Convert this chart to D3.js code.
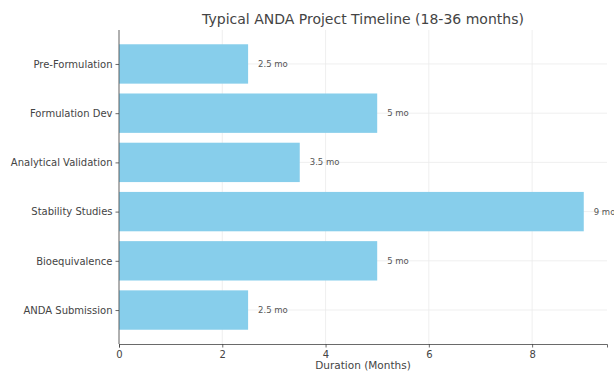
<!DOCTYPE html>
<html>
<head>
<meta charset="utf-8">
<script src="https://cdn.jsdelivr.net/npm/d3@7"></script>
<style>
  body { margin: 0; background: #fff; }
  svg { display: block; font-family: "DejaVu Sans", sans-serif; }
</style>
</head>
<body>
<div id="chart"></div>
<script>
/* ------------------------- Data ------------------------- */
var phases = ["Pre-Formulation", "Formulation Dev", "Analytical Validation",
              "Stability Studies", "Bioequivalence", "ANDA Submission"];
var months = [2.5, 5, 3.5, 9, 5, 2.5];
var valueLabels = ["2.5 mo", "5 mo", "3.5 mo", "9 mo", "5 mo", "2.5 mo"];
var xTicks = [0, 2, 4, 6, 8];

/* ------------------------- Layout ------------------------- */
var width = 614, height = 373,
    margin = {top: 30, right: 7, bottom: 29, left: 119},
    innerW = width - margin.left - margin.right,
    innerH = height - margin.top - margin.bottom;

var svg = d3.select("#chart").append("svg")
    .attr("width", width)
    .attr("height", height);

var chart = svg.append("g")
    .attr("transform", "translate(" + margin.left + "," + margin.top + ")");

/* x scale with a small margin past the longest bar */
var x = d3.scaleLinear()
    .domain([0, d3.max(months) * 1.05])
    .range([0, innerW]);

/* y: index scale like barh, bar height 0.8 */
var pad = 0.05 * (phases.length - 1 + 0.8);
var y = d3.scaleLinear()
    .domain([-0.4 - pad, phases.length - 1 + 0.4 + pad])
    .range([0, innerH]);
var barH = y(0.8) - y(0);

/* Grid */
chart.append("g")
    .selectAll("line.vgrid")
    .data(xTicks)
    .enter().append("line")
    .attr("x1", function(d) { return x(d); })
    .attr("x2", function(d) { return x(d); })
    .attr("y1", 0)
    .attr("y2", innerH)
    .attr("stroke", "#ebebeb")
    .attr("stroke-width", 0.8);

chart.append("g")
    .selectAll("line.hgrid")
    .data(phases)
    .enter().append("line")
    .attr("x1", 0)
    .attr("x2", innerW)
    .attr("y1", function(d, i) { return y(i); })
    .attr("y2", function(d, i) { return y(i); })
    .attr("stroke", "#ebebeb")
    .attr("stroke-width", 0.8);

/* Bars */
chart.selectAll("rect.bar")
    .data(months)
    .enter().append("rect")
    .attr("class", "bar")
    .attr("x", x(0))
    .attr("y", function(d, i) { return y(i) - barH / 2; })
    .attr("width", function(d) { return x(d) - x(0); })
    .attr("height", barH)
    .attr("fill", "#87ceeb");

/* Value labels */
chart.selectAll("text.val")
    .data(months)
    .enter().append("text")
    .attr("class", "val")
    .attr("x", function(d) { return x(d) + 10; })
    .attr("y", function(d, i) { return y(i); })
    .attr("dy", "0.35em")
    .attr("font-size", 8.5)
    .attr("fill", "#555")
    .text(function(d, i) { return valueLabels[i]; });

/* Axes */
var xAxis = d3.axisBottom(x).tickValues(xTicks).tickSize(3.5).tickPadding(3);
var gx = chart.append("g")
    .attr("transform", "translate(0," + innerH + ")")
    .call(xAxis);
gx.select(".domain").attr("stroke", "#444").attr("stroke-width", 0.8);
gx.selectAll(".tick line").attr("stroke", "#444").attr("stroke-width", 0.8);
gx.selectAll(".tick text").attr("font-size", 10).attr("fill", "#444")
    .attr("font-family", "DejaVu Sans");

var yAxis = d3.axisLeft(d3.scalePoint().domain(phases).range([y(0), y(phases.length - 1)]))
    .tickSize(3.5).tickPadding(3);
var gy = chart.append("g").call(yAxis);
gy.select(".domain").attr("d", "M0,0V" + innerH).attr("stroke", "#444").attr("stroke-width", 0.8);
gy.selectAll(".tick line").attr("stroke", "#444").attr("stroke-width", 0.8);
gy.selectAll(".tick text").attr("font-size", 10).attr("fill", "#444")
    .attr("font-family", "DejaVu Sans");

/* Titles */
svg.append("text")
    .attr("x", margin.left + innerW / 2)
    .attr("y", 24)
    .attr("text-anchor", "middle")
    .attr("font-size", 14)
    .attr("fill", "#444")
    .text("Typical ANDA Project Timeline (18-36 months)");

svg.append("text")
    .attr("x", margin.left + innerW / 2)
    .attr("y", 369)
    .attr("text-anchor", "middle")
    .attr("font-size", 10.5)
    .attr("fill", "#444")
    .text("Duration (Months)");
</script>
</body>
</html>
